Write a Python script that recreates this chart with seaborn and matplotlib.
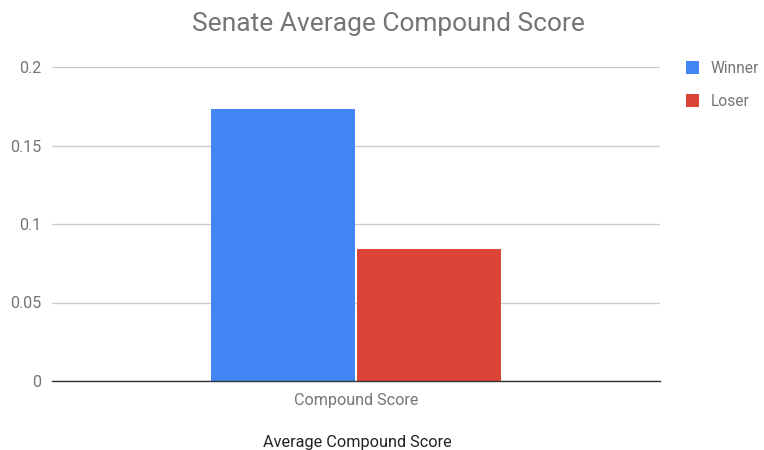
import pandas as pd
import matplotlib.pyplot as plt
import seaborn as sns
from matplotlib.patches import Patch

# Data
categories = ['Compound Score']
groups = ['Winner', 'Loser']
scores = [0.1734, 0.0839]
palette = ['#4285F4', '#DB4437']
y_ticks = [0, 0.05, 0.1, 0.15, 0.2]
y_tick_labels = ['0', '0.05', '0.1', '0.15', '0.2']

df = pd.DataFrame({
    'Category': categories * len(groups),
    'Group': groups,
    'Score': scores,
})

sns.set_style('white')
plt.rcParams['font.family'] = ['Roboto', 'DejaVu Sans']

fig = plt.figure(figsize=(7.64, 4.5), dpi=100)
ax = fig.add_axes([52 / 764, 1 - 381 / 450, 608 / 764, 314 / 450])

sns.barplot(data=df, x='Category', y='Score', hue='Group', palette=palette,
            width=0.48, gap=0.01, saturation=1, legend=False, ax=ax,
            edgecolor='none')

ax.set_ylim(0, 0.2)
ax.set_xlim(-0.5, 0.5)
ax.set_yticks(y_ticks)
ax.set_yticklabels(y_tick_labels)
ax.yaxis.grid(True, color='#cccccc', linewidth=1)
ax.set_axisbelow(True)
for side in ['top', 'right', 'left']:
    ax.spines[side].set_visible(False)
ax.spines['bottom'].set_color('#333333')
ax.spines['bottom'].set_linewidth(1)
ax.tick_params(axis='both', length=0, labelsize=11.6, colors='#757575')
ax.tick_params(axis='y', pad=8)
ax.tick_params(axis='x', pad=9)
ax.set_xlabel('')
ax.set_ylabel('')

fig.text(388 / 764, 1 - 24 / 450, 'Senate Average Compound Score', ha='center', va='center',
         fontsize=19, color='#757575')
fig.text(357 / 764, 1 - 443 / 450, 'Average Compound Score', ha='center', va='center',
         fontsize=11.7, color='#222222')

handles = [Patch(facecolor=c, edgecolor='none') for c in palette]
fig.legend(handles, groups, loc='upper left', bbox_to_anchor=(672 / 764, 1 - 47 / 450),
           frameon=False, fontsize=11.2, labelcolor='#757575', handlelength=0.85,
           handleheight=0.85, handletextpad=0.75, labelspacing=1.15)

fig.savefig('out.png', dpi=100)
plt.close(fig)
